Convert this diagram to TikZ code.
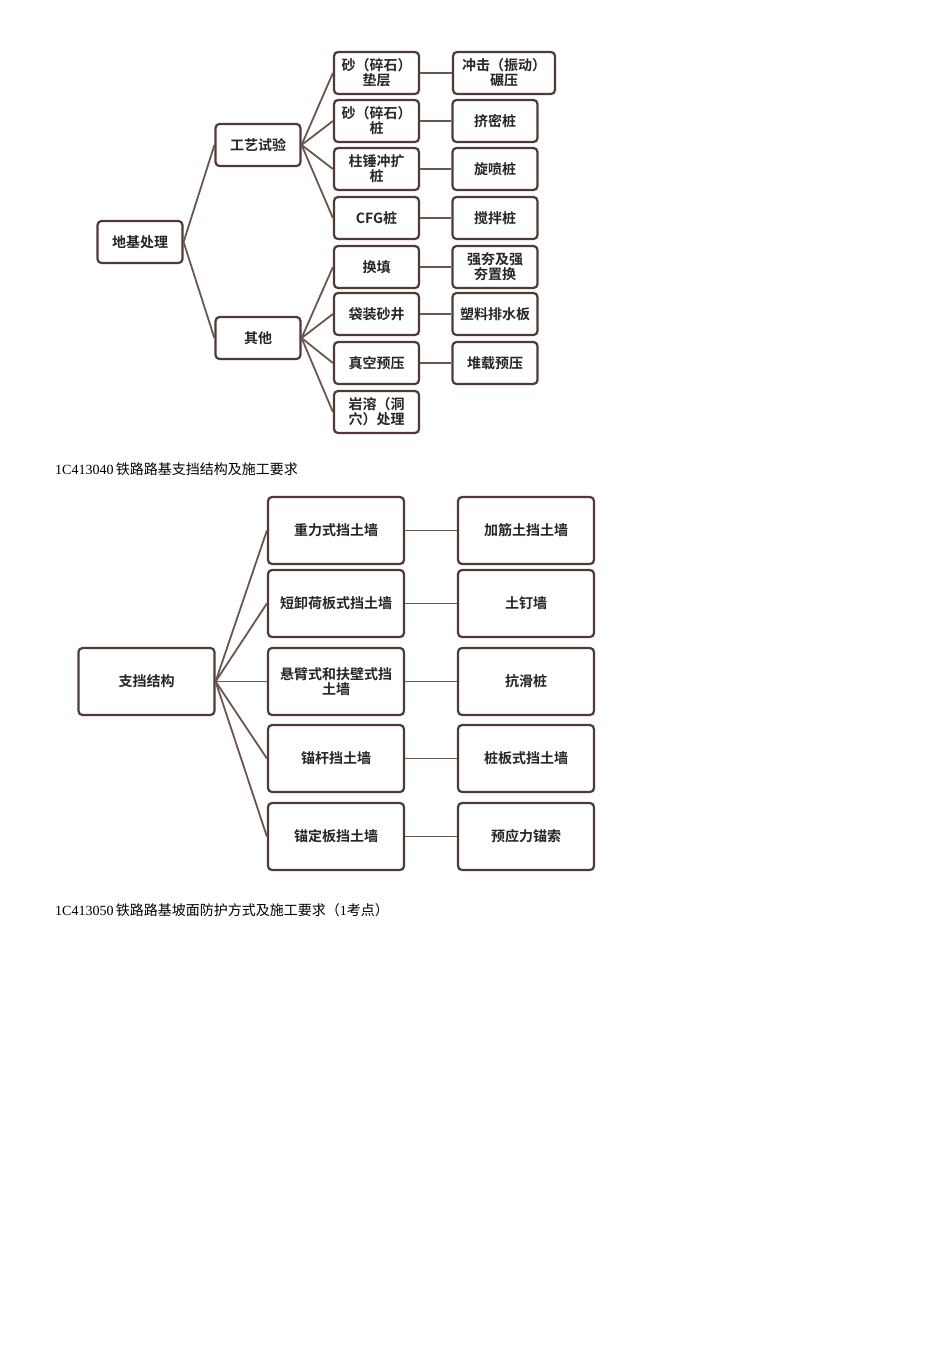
\documentclass[tikz,border=0pt]{standalone}
\usepackage{fontspec}
\setmainfont{Liberation Serif}
\newfontfamily\cjk{Noto Sans CJK SC}
\newfontfamily\cjkb{Noto Sans CJK SC Bold}
\definecolor{bord}{HTML}{4E3B36}
\definecolor{lin}{HTML}{6B5550}
\begin{document}
\begin{tikzpicture}[x=1pt,y=-1pt,
  bx/.style={draw=bord,line width=2.2pt,rounded corners=4pt,fill=white,align=center,
    font=\cjkb\fontsize{14}{15}\selectfont,inner sep=1pt,
    minimum width=85pt,minimum height=42pt,text width=80pt,text=black!85},
  bb/.style={bx,minimum width=136pt,minimum height=67pt,text width=128pt},
  ln/.style={draw=lin,line width=1.8pt},
  captxt/.style={anchor=west,font=\fontsize{14}{16}\selectfont,inner sep=0pt}]
\useasboundingbox (0,0) rectangle (950,1345);
% top
\node[bx] (root) at (140,242) {地基处理};
\node[bx] (gy) at (258,145) {工艺试验};
\node[bx] (qt) at (258,338) {其他};
\foreach \n/\y/\t in {a/73/{砂（碎石）\\垫层},b/121/{砂（碎石）\\桩},c/169/{柱锤冲扩\\桩},d/218/{CFG桩},e/267/{换填},f/314/{袋装砂井},g/363/{真空预压},h/412/{岩溶（洞\\穴）处理}}
  \node[bx] (\n) at (376.5,\y) {\t};
\node[bx,minimum width=102pt,text width=98pt] (a2) at (504,73) {冲击（振动）\\碾压};
\foreach \n/\y/\t in {b/121/{挤密桩},c/169/{旋喷桩},d/218/{搅拌桩},e/267/{强夯及强\\夯置换},f/314/{塑料排水板},g/363/{堆载预压}}
  \node[bx] (\n2) at (495,\y) {\t};
\draw[ln] (root.east) -- (gy.west);
\draw[ln] (root.east) -- (qt.west);
\foreach \n in {a,b,c,d} \draw[ln] (gy.east) -- (\n.west);
\foreach \n in {e,f,g,h} \draw[ln] (qt.east) -- (\n.west);
\foreach \n in {a,b,c,d,e,f,g} \draw[ln] (\n.east) -- (\n2.west);
\node[captxt] (c1) at (55,469) {1C413040\,{\cjk 铁路路基支挡结构及施工要求}};
% bottom
\node[bb] (zd) at (146.5,681.5) {支挡结构};
\foreach \n/\y/\t/\u in {p/530.5/{重力式挡土墙}/{加筋土挡土墙},q/603.5/{短卸荷板式挡土墙}/{土钉墙},r/681.5/{悬臂式和扶壁式挡\\土墙}/{抗滑桩},s/758.5/{锚杆挡土墙}/{桩板式挡土墙},t/836.5/{锚定板挡土墙}/{预应力锚索}}{
  \node[bb] (\n) at (336,\y) {\t};
  \node[bb] (\n2) at (526,\y) {\u};
  \draw[ln] (zd.east) -- (\n.west);
  \draw[ln] (\n.east) -- (\n2.west);
}
\node[captxt] (c2) at (55,910) {1C413050\,{\cjk 铁路路基坡面防护方式及施工要求（}1{\cjk 考点）}};
\end{tikzpicture}
\end{document}
